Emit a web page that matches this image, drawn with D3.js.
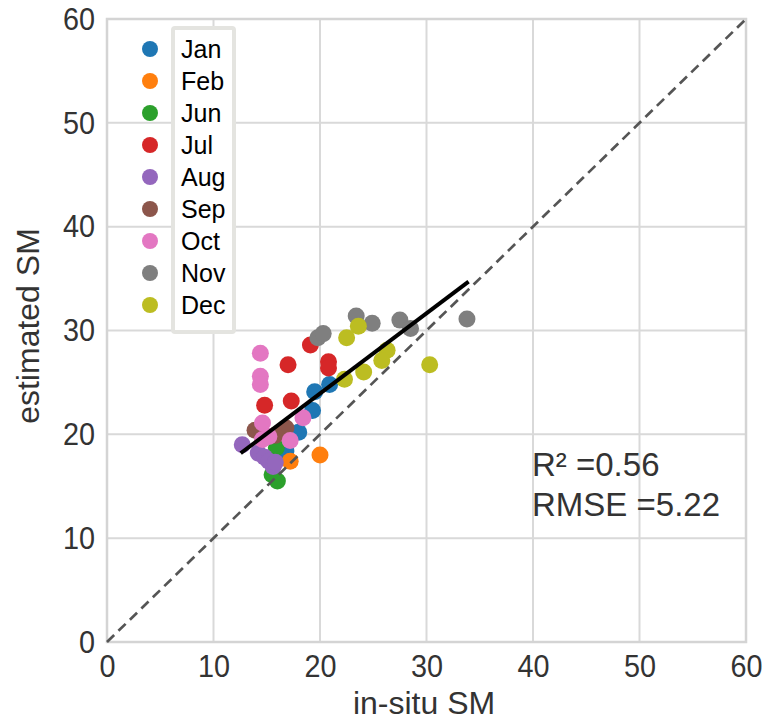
<!DOCTYPE html>
<html>
<head>
<meta charset="utf-8">
<script src="https://cdnjs.cloudflare.com/ajax/libs/d3/7.8.5/d3.min.js"></script>
<style>
	body { margin: 0; background: #fff; }
	text { font-family: "Liberation Sans", Arial, sans-serif; }
</style>
</head>
<body>
<div id="my_dataviz"></div>
<script>
// months shown in the legend, in plotting order
var months = ["Jan","Feb","Jun","Jul","Aug","Sep","Oct","Nov","Dec"];
var monthColors = ["#1f77b4","#ff7f0e","#2ca02c","#d62728","#9467bd","#8c564b","#e377c2","#7f7f7f","#bcbd22"];

// in-situ SM (x) and estimated SM (y) per month
var janX = [20.9, 19.5, 19.3, 18.0, 16.8];
var janY = [24.8, 24.1, 22.3, 20.2, 18.4];
var febX = [20.0, 17.2];
var febY = [18.0, 17.4];
var junX = [15.9, 15.5, 16.0];
var junY = [18.7, 16.1, 15.5];
var julX = [19.1, 17.0, 20.8, 20.8, 14.8, 17.3];
var julY = [28.6, 26.7, 27.0, 26.4, 22.8, 23.2];
var augX = [12.7, 14.2, 14.8, 15.2, 15.6, 15.8];
var augY = [19.0, 18.2, 17.8, 17.4, 16.9, 17.3];
var sepX = [13.9, 16.8, 15.8];
var sepY = [20.4, 20.6, 19.9];
var octX = [14.4, 14.4, 14.4, 18.4, 14.6, 15.2, 14.6, 17.2];
var octY = [27.8, 25.6, 24.8, 21.6, 21.1, 19.8, 19.5, 19.4];
var novX = [19.8, 20.3, 23.4, 24.9, 27.5, 28.5, 33.8];
var novY = [29.3, 29.7, 31.4, 30.7, 31.0, 30.2, 31.1];
var decX = [23.6, 22.5, 26.3, 25.8, 24.1, 22.3, 30.3];
var decY = [30.4, 29.3, 28.1, 27.1, 26.0, 25.3, 26.7];

// fitted line end points and 1:1 line
var fitX = [12.7, 33.8];
var fitY = [18.3, 34.6];
var oneToOne = [0, 60];

var tickValues = [0, 10, 20, 30, 40, 50, 60];
var statsText = ["R\u00b2 =0.56", "RMSE =5.22"];

var seriesX = [janX, febX, junX, julX, augX, sepX, octX, novX, decX];
var seriesY = [janY, febY, junY, julY, augY, sepY, octY, novY, decY];

var width = 764;
var height = 722;

var svg = d3.select('#my_dataviz')
	.append('svg')
	.attr("width", width)
	.attr("height", height);

var x = d3.scaleLinear().domain([0, 60]).range([107, 746]);
var y = d3.scaleLinear().domain([0, 60]).range([642, 19]);

var color = d3.scaleOrdinal().domain(months).range(monthColors);

// grid lines
svg.append("g").selectAll("line.vx")
	.data(tickValues)
	.enter().append("line")
	.attr("x1", function(d){return x(d);})
	.attr("x2", function(d){return x(d);})
	.attr("y1", y(0)).attr("y2", y(60))
	.style("stroke", "#d9d9d9").style("stroke-width", 2);

svg.append("g").selectAll("line.hy")
	.data(tickValues)
	.enter().append("line")
	.attr("y1", function(d){return y(d);})
	.attr("y2", function(d){return y(d);})
	.attr("x1", x(0)).attr("x2", x(60))
	.style("stroke", "#d9d9d9").style("stroke-width", 2);

// frame
svg.append("rect")
	.attr("x", x(0)).attr("y", y(60))
	.attr("width", x(60) - x(0)).attr("height", y(0) - y(60))
	.style("fill", "none").style("stroke", "#d4d4d4").style("stroke-width", 2.5);

// axes - tick labels are a bit narrow in the original, so squeeze them
var xAxis = svg.append("g")
	.attr("transform", "translate(0," + y(0) + ")")
	.call(d3.axisBottom(x).tickValues(tickValues).tickSize(0).tickPadding(12));
var yAxis = svg.append("g")
	.attr("transform", "translate(" + x(0) + ",0)")
	.call(d3.axisLeft(y).tickValues(tickValues).tickSize(0).tickPadding(12));
[xAxis, yAxis].forEach(function(a){
	a.select(".domain").remove();
	a.selectAll("text")
		.style("font-size", "32px")
		.style("fill", "#333")
		.style("font-family", "'Liberation Sans', Arial, sans-serif")
		.attr("transform", "scale(0.9,1)");
});
yAxis.selectAll("text").attr("x", -12 / 0.9);

// points, one month after the other
seriesX.forEach(function(xs, m){
	svg.append("g").selectAll("circle")
		.data(xs)
		.enter().append("circle")
		.attr("cx", function(d){return x(d);})
		.attr("cy", function(d, i){return y(seriesY[m][i]);})
		.attr("r", 8.5)
		.style("fill", color(months[m]));
});

// 1:1 dashed line
svg.append("line")
	.attr("x1", x(oneToOne[0])).attr("y1", y(oneToOne[0]))
	.attr("x2", x(oneToOne[1])).attr("y2", y(oneToOne[1]))
	.style("stroke", "#555")
	.style("stroke-width", 2.7)
	.style("stroke-dasharray", "10,6");

// fit line
svg.append("line")
	.attr("x1", x(fitX[0])).attr("y1", y(fitY[0]))
	.attr("x2", x(fitX[1])).attr("y2", y(fitY[1]))
	.style("stroke", "#000")
	.style("stroke-width", 4)
	.style("stroke-linecap", "square");

// stats
svg.selectAll("text.stats")
	.data(statsText)
	.enter().append("text")
	.attr("class", "stats")
	.attr("x", 532)
	.attr("y", function(d, i){return 476 + i * 40;})
	.style("font-size", "33px")
	.style("fill", "#333")
	.text(function(d){return d;});

// axis titles
svg.append("text")
	.attr("x", 424).attr("y", 714)
	.attr("text-anchor", "middle")
	.style("font-size", "32px").style("fill", "#333")
	.text("in-situ SM");
svg.append("text")
	.attr("transform", "translate(39,326) rotate(-90)")
	.attr("text-anchor", "middle")
	.style("font-size", "32px").style("fill", "#333")
	.text("estimated SM");

// legend (the frame only wraps the labels)
var legend = svg.append("g");
legend.append("rect")
	.attr("x", 173).attr("y", 28)
	.attr("width", 61).attr("height", 304)
	.attr("rx", 2)
	.style("fill", "#fff")
	.style("stroke", "#e4e4e0")
	.style("stroke-width", 4);
var rows = legend.selectAll("g.row")
	.data(months)
	.enter().append("g")
	.attr("transform", function(d, i){return "translate(0," + (49 + i * 32) + ")";});
rows.append("circle")
	.attr("cx", 150).attr("cy", 0).attr("r", 8)
	.style("fill", function(d){return color(d);});
rows.append("text")
	.attr("x", 181).attr("y", 9)
	.style("font-size", "25px")
	.style("fill", "#000")
	.text(function(d){return d;});
</script>
</body>
</html>
